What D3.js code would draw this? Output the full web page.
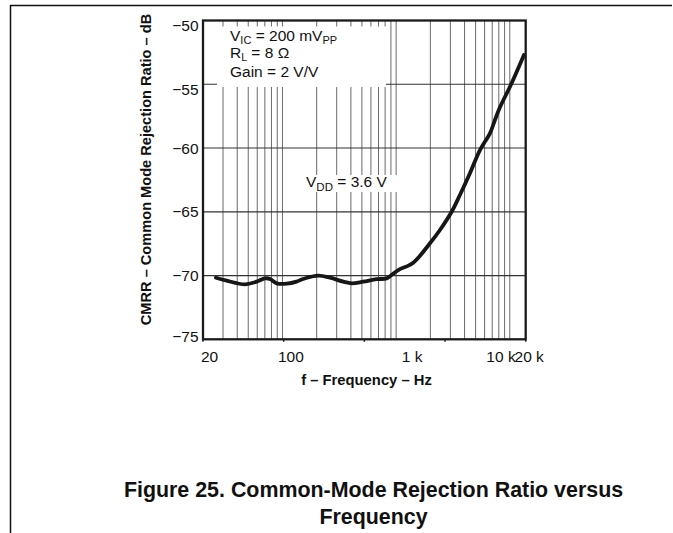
<!DOCTYPE html>
<html><head><meta charset="utf-8">
<script src="https://cdn.jsdelivr.net/npm/d3@7"></script>
<style>
body{margin:0;background:#fff;}
svg{display:block;font-family:"Liberation Sans",Arial,Helvetica,sans-serif;}
</style></head><body>
<svg id="c" width="673" height="533"></svg>
<script>
// ---- data ----
const freqHz = [26, 32.3, 46.8, 59.3, 70.2, 77.7, 89, 109, 133, 152, 207, 262, 343, 406, 514, 674, 826, 930, 1044, 1414, 1984, 2430, 3079, 3641, 4460, 5462, 6689, 7401, 8190, 10378, 13314];
const cmrrDb = [-70.17, -70.40, -70.69, -70.48, -70.22, -70.27, -70.61, -70.64, -70.48, -70.27, -70.01, -70.17, -70.48, -70.61, -70.48, -70.29, -70.22, -69.90, -69.57, -68.99, -67.47, -66.43, -65.00, -63.68, -61.98, -60.16, -58.85, -57.80, -56.81, -54.92, -52.71];
const yTickValues = [-50, -55, -60, -65, -70, -75];
const xTickValues = [20, 100, 1000, 10000, 20000];
const xTickLabels = ["20", "100", "1 k", "10 k", "20 k"];
const xDomain = [20, 13800];
const yDomain = [-75, -50];

// ---- layout ----
const L = 203, R = 525.7, T = 20.5, B = 339.3;
const svg = d3.select("#c");
const x = d3.scaleLog().domain(xDomain).range([L, R]);
const y = d3.scaleLinear().domain(yDomain).range([B, T]);

// outer frame (top and left rules)
svg.append("line").attr("x1", 10).attr("x2", 672).attr("y1", 5.5).attr("y2", 5.5).attr("stroke", "#111").attr("stroke-width", 1.5);
svg.append("line").attr("x1", 10.5).attr("x2", 10.5).attr("y1", 5).attr("y2", 533).attr("stroke", "#111").attr("stroke-width", 1.5);

// vertical grid
const gridF = x.ticks().filter(f => f > xDomain[0] && f < xDomain[1]);
svg.append("g").selectAll("line").data(gridF).join("line")
  .attr("x1", d => x(d)).attr("x2", d => x(d)).attr("y1", T).attr("y2", B)
  .attr("stroke", "#6a6a6a").attr("stroke-width", 1);
// horizontal grid
svg.append("g").selectAll("line").data(yTickValues.filter(v => v > yDomain[0] && v < yDomain[1])).join("line")
  .attr("x1", L).attr("x2", R).attr("y1", d => y(d)).attr("y2", d => y(d))
  .attr("stroke", "#333").attr("stroke-width", 1.2);

// white label boxes
svg.append("rect").attr("x", 217).attr("y", 26.5).attr("width", 169).attr("height", 60.5).attr("fill", "#fff");
svg.append("rect").attr("x", 305).attr("y", 175).attr("width", 92).attr("height", 17).attr("fill", "#fff");

// curve
const line = d3.line().x((d, i) => x(freqHz[i])).y(d => y(d)).curve(d3.curveCatmullRom.alpha(0.5));
svg.append("path").attr("d", line(cmrrDb)).attr("fill", "none").attr("stroke", "#161616")
  .attr("stroke-width", 3.8).attr("stroke-linejoin", "round").attr("stroke-linecap", "round");

// plot frame
svg.append("rect").attr("x", L).attr("y", T).attr("width", R - L).attr("height", B - T)
  .attr("fill", "none").attr("stroke", "#1a1a1a").attr("stroke-width", 2.3);

// y axis labels
const yLab = svg.append("g").attr("font-size", 15.5).attr("fill", "#111").attr("text-anchor", "end");
const yNudge = {"-50": 4.5, "-55": 5.5, "-75": -3};
yLab.selectAll("text").data(yTickValues).join("text")
  .attr("x", 198.5).attr("y", d => y(d) + (yNudge[d] || 0)).attr("dy", "0.36em")
  .text(d => "\u2212" + Math.abs(d));

// x axis: small tick marks evenly along the bottom
const xp = d3.scalePoint().domain(xTickLabels).range([L, R]);
svg.append("g").selectAll("line").data(xTickLabels).join("line")
  .attr("x1", d => xp(d)).attr("x2", d => xp(d)).attr("y1", B).attr("y2", B + 2.5)
  .attr("stroke", "#222").attr("stroke-width", 1.5);
// x axis labels
const xNudge = [6.5, 8.4, 16, -8.8, 3.5];
svg.append("g").attr("font-size", 15.5).attr("fill", "#111").attr("text-anchor", "middle")
  .selectAll("text").data(xTickValues).join("text")
  .attr("x", (d, i) => Math.min(x(d), R) + xNudge[i]).attr("y", 361.5)
  .text((d, i) => xTickLabels[i]);

// axis titles
svg.append("text").attr("x", 366.5).attr("y", 385).attr("text-anchor", "middle")
  .attr("font-size", 14.8).attr("font-weight", "bold").attr("fill", "#111").text("f \u2013 Frequency \u2013 Hz");
svg.append("text").attr("transform", "translate(151,169.5) rotate(-90)").attr("text-anchor", "middle")
  .attr("font-size", 14.6).attr("font-weight", "bold").attr("fill", "#111")
  .text("CMRR \u2013 Common Mode Rejection Ratio \u2013 dB");

// annotations
const ann = svg.append("g").attr("font-size", 15.5).attr("fill", "#111");
let t1 = ann.append("text").attr("x", 230).attr("y", 41);
t1.append("tspan").text("V"); t1.append("tspan").attr("dy", 3).attr("font-size", 11).text("IC");
t1.append("tspan").attr("dy", -3).text(" = 200 mV"); t1.append("tspan").attr("dy", 3).attr("font-size", 11).text("PP");
let t2 = ann.append("text").attr("x", 230).attr("y", 58);
t2.append("tspan").text("R"); t2.append("tspan").attr("dy", 2.5).attr("font-size", 10.5).text("L");
t2.append("tspan").attr("dy", -2.5).text(" = 8 \u03A9");
ann.append("text").attr("x", 230).attr("y", 77).text("Gain = 2 V/V");
let t3 = ann.append("text").attr("x", 306).attr("y", 187);
t3.append("tspan").text("V"); t3.append("tspan").attr("dy", 3.5).attr("font-size", 11.5).text("DD");
t3.append("tspan").attr("dy", -3.5).text(" = 3.6 V");

// figure caption
const cap = svg.append("g").attr("font-size", 21.4).attr("font-weight", "bold").attr("fill", "#111").attr("text-anchor", "middle");
cap.append("text").attr("x", 373.5).attr("y", 496.7).text("Figure 25. Common-Mode Rejection Ratio versus");
cap.append("text").attr("x", 373.5).attr("y", 523.5).text("Frequency");
</script>
</body></html>
